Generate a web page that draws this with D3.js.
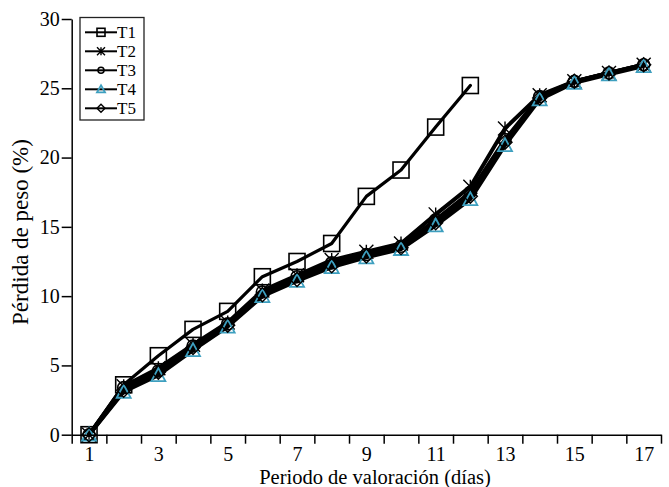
<!DOCTYPE html>
<meta charset="utf-8">
<style>
  body { margin: 0; background: #fff; }
  svg text { font-family: "Liberation Serif", "DejaVu Serif", serif !important; fill: #000; }
  .axis path, .axis line { stroke: #000; stroke-width: 1.5px; }
  .line { fill: none; stroke: #000; stroke-linejoin: round; stroke-linecap: round; }
</style>
<body>
<script src="https://cdn.jsdelivr.net/npm/d3@7"></script>
<script>
// data
var days = [1, 2, 3, 4, 5, 6, 7, 8, 9, 10, 11, 12, 13, 14, 15, 16, 17];
var t1 = [0, 3.6, 5.7, 7.6, 8.9, 11.4, 12.5, 13.8, 17.2, 19.1, 22.2, 25.2];
var t2 = [0, 3.5, 4.8, 6.5, 8.1, 10.4, 11.5, 12.6, 13.2, 13.8, 15.9, 17.9, 22.1, 24.5, 25.5, 26.1, 26.7];
var t3 = [0, 3.4, 4.6, 6.4, 8.0, 10.3, 11.4, 12.4, 13.0, 13.6, 15.5, 17.5, 21.3, 24.4, 25.5, 26.1, 26.7];
var t4 = [0, 3.1, 4.3, 6.1, 7.8, 10.0, 11.1, 12.1, 12.8, 13.4, 15.1, 17.0, 20.9, 24.2, 25.4, 26.0, 26.6];
var t5 = [0, 3.2, 4.5, 6.3, 7.9, 10.1, 11.2, 12.2, 12.9, 13.5, 15.3, 17.2, 21.1, 24.3, 25.5, 26.1, 26.7];
var names = ["T1", "T2", "T3", "T4", "T5"];
var yTicks = [0, 5, 10, 15, 20, 25, 30];
var xLabels = [1, 3, 5, 7, 9, 11, 13, 15, 17];

var width = 669, height = 487;
var margin = {left: 71.7, right: 661, top: 19, bottom: 434.7};

var svg = d3.select("body").append("svg")
    .attr("width", width)
    .attr("height", height);

var x = d3.scaleLinear().domain([0.5, 17.5]).range([margin.left, margin.right]);
var y = d3.scaleLinear().domain([0, 30]).range([margin.bottom, margin.top]);

// series
var series = [
  {name: names[0], vals: t1, sym: "square", color: "#000", lw: 3.2},
  {name: names[1], vals: t2, sym: "star", color: "#000", lw: 4},
  {name: names[2], vals: t3, sym: "circle", color: "#000", lw: 4},
  {name: names[3], vals: t4, sym: "triangle", color: "#3d9fbf", lw: 4},
  {name: names[4], vals: t5, sym: "diamond", color: "#000", lw: 4}
];

function marker(g, sym, color, s) {
  if (sym == "square") {
    g.append("rect").attr("x", -s / 2).attr("y", -s / 2).attr("width", s).attr("height", s)
      .attr("fill", "none").attr("stroke", color).attr("stroke-width", 1.6);
  } else if (sym == "star") {
    var h = s / 2;
    g.append("path").attr("d", "M" + (-h) + "," + (-h) + "L" + h + "," + h + "M" + (-h) + "," + h + "L" + h + "," + (-h) + "M0," + (-h) + "L0," + h)
      .attr("stroke", color).attr("stroke-width", 1.4);
  } else if (sym == "circle") {
    g.append("circle").attr("r", s / 2 - 1).attr("fill", "none").attr("stroke", color).attr("stroke-width", 1.6);
  } else if (sym == "triangle") {
    g.append("path").attr("d", "M0," + (-s / 2) + "L" + (s / 2) + "," + (s / 2 - 1) + "L" + (-s / 2) + "," + (s / 2 - 1) + "Z")
      .attr("fill", "none").attr("stroke", color).attr("stroke-width", 1.8);
  } else if (sym == "diamond") {
    var d = s / 2;
    g.append("path").attr("d", "M0," + (-d) + "L" + d + ",0L0," + d + "L" + (-d) + ",0Z")
      .attr("fill", "none").attr("stroke", color).attr("stroke-width", 1.4);
  }
}

var line = d3.line()
    .x(function (d, i) { return x(days[i]); })
    .y(function (d) { return y(d); });

series.forEach(function (s) {
  svg.append("path")
      .datum(s.vals)
      .attr("class", "line")
      .attr("stroke-width", s.lw)
      .attr("d", line);
});

series.forEach(function (s) {
  s.vals.forEach(function (v, i) {
    var g = svg.append("g").attr("transform", "translate(" + x(days[i]) + "," + y(v) + ")");
    marker(g, s.sym, s.color, s.sym == "square" ? 16 : 14);
  });
});

// axes
var boundaries = d3.range(0.5, 18, 1);
svg.append("g")
    .attr("class", "axis")
    .attr("transform", "translate(0," + margin.bottom + ")")
    .call(d3.axisBottom(x).tickValues(boundaries).tickSize(9).tickSizeOuter(0).tickFormat(""));

svg.append("g")
    .attr("class", "axis")
    .attr("transform", "translate(0," + margin.bottom + ")")
    .call(d3.axisBottom(x).tickValues(xLabels).tickSize(0).tickPadding(12).tickFormat(d3.format("d")))
    .call(function (g) { g.select(".domain").remove(); })
    .selectAll("text").style("font-size", "20px");

svg.append("g")
    .attr("class", "axis")
    .attr("transform", "translate(" + margin.left + ",0)")
    .call(d3.axisLeft(y).tickValues(yTicks).tickSize(10).tickSizeOuter(0).tickPadding(2))
    .selectAll("text").style("font-size", "20px");

// axis titles
svg.append("text")
    .attr("x", 375)
    .attr("y", 484)
    .attr("text-anchor", "middle")
    .style("font-size", "20.5px")
    .text("Periodo de valoración (días)");

svg.append("text")
    .attr("transform", "translate(28,232) rotate(-90)")
    .attr("text-anchor", "middle")
    .style("font-size", "23px")
    .text("Pérdida de peso (%)");

// legend
svg.append("rect")
    .attr("x", 80).attr("y", 17.5)
    .attr("width", 64).attr("height", 102.5)
    .attr("fill", "#fff").attr("stroke", "#222").attr("stroke-width", 1.3);

var legend = svg.selectAll(".legend")
    .data(series)
    .enter().append("g")
    .attr("class", "legend")
    .attr("transform", function (d, i) { return "translate(0," + (32.3 + i * 19) + ")"; });

legend.append("line")
    .attr("x1", 85).attr("x2", 117)
    .attr("stroke", "#000").attr("stroke-width", 2);

legend.each(function (d) {
  var g = d3.select(this).append("g").attr("transform", "translate(101,0)");
  marker(g, d.sym, d.color, 8);
});

legend.append("text")
    .attr("x", 117)
    .attr("dy", "0.35em")
    .style("font-size", "17px")
    .text(function (d) { return d.name; });
</script>
</body>
